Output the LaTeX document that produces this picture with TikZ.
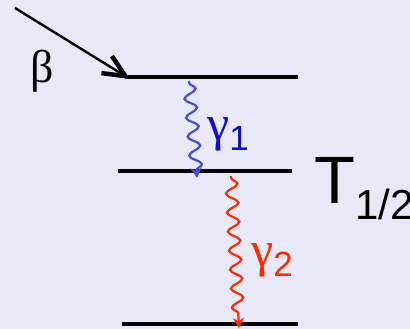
\documentclass[tikz,border=0pt]{standalone}
\usepackage{fontspec}
\setmainfont{Liberation Serif}
\newfontfamily\sansf{Liberation Sans}
\usetikzlibrary{arrows.meta,decorations.pathmorphing}
\definecolor{bg}{HTML}{E8E8F8}
\definecolor{gblue}{HTML}{4A4ADE}
\definecolor{gtblue}{HTML}{1010CC}
\definecolor{gred}{HTML}{FF2A00}
\tikzset{
  level/.style={line width=4.5pt, black},
  wavy/.style={line width=2.2pt, decorate,
    decoration={snake, amplitude=6pt, segment length=19pt, post length=6pt, pre length=2pt}},
  lbl/.style={inner sep=0pt, anchor=base west}
}
\begin{document}
\begin{tikzpicture}[x=1pt,y=-1pt]
\fill[bg] (0,0) rectangle (410,329);
\useasboundingbox (0,0) rectangle (410,329);
% levels
\coordinate (l1a) at (125,77); \coordinate (l1b) at (298,77);
\coordinate (l2a) at (118,171); \coordinate (l2b) at (292,171);
\coordinate (l3a) at (122,324); \coordinate (l3b) at (298,324);
\draw[level] (l1a) -- (l1b);
\draw[level] (l2a) -- (l2b);
\draw[level] (l3a) -- (l3b);
% beta arrow
\coordinate (bs) at (15,8);
\coordinate (be) at (130,79);
\draw[line width=2.4pt, -{Straight Barb[length=22pt,width=20pt,line width=4.5pt]}] (bs) -- (be);
\node[lbl] (beta) at (30,83) {\fontsize{46}{46}\selectfont β};
% gamma 1
\coordinate (g1s) at (189,81);
\coordinate (g1e) at (197,178);
\draw[wavy, gblue, -{Stealth[length=10pt,width=11pt]}] (g1s) -- (g1e);
\node[lbl, text=gtblue] (gam1) at (207,140) {\fontsize{50}{50}\selectfont γ\raisebox{-10pt}{\sansf\fontsize{35}{35}\selectfont 1}};
% gamma 2
\coordinate (g2s) at (231,176);
\coordinate (g2e) at (239,328);
\draw[wavy, gred, -{Stealth[length=10pt,width=11pt]}] (g2s) -- (g2e);
\node[lbl, text=gred] (gam2) at (251,266) {\fontsize{50}{50}\selectfont γ\raisebox{-10pt}{\sansf\fontsize{35}{35}\selectfont 2}};
% T1/2 (cut off at the right edge, as in the reference)
\node[lbl] (thalf) at (314,203) {\sansf\fontsize{67}{67}\selectfont T\raisebox{-17pt}{\fontsize{42}{42}\selectfont 1/2}};
\end{tikzpicture}
\end{document}
